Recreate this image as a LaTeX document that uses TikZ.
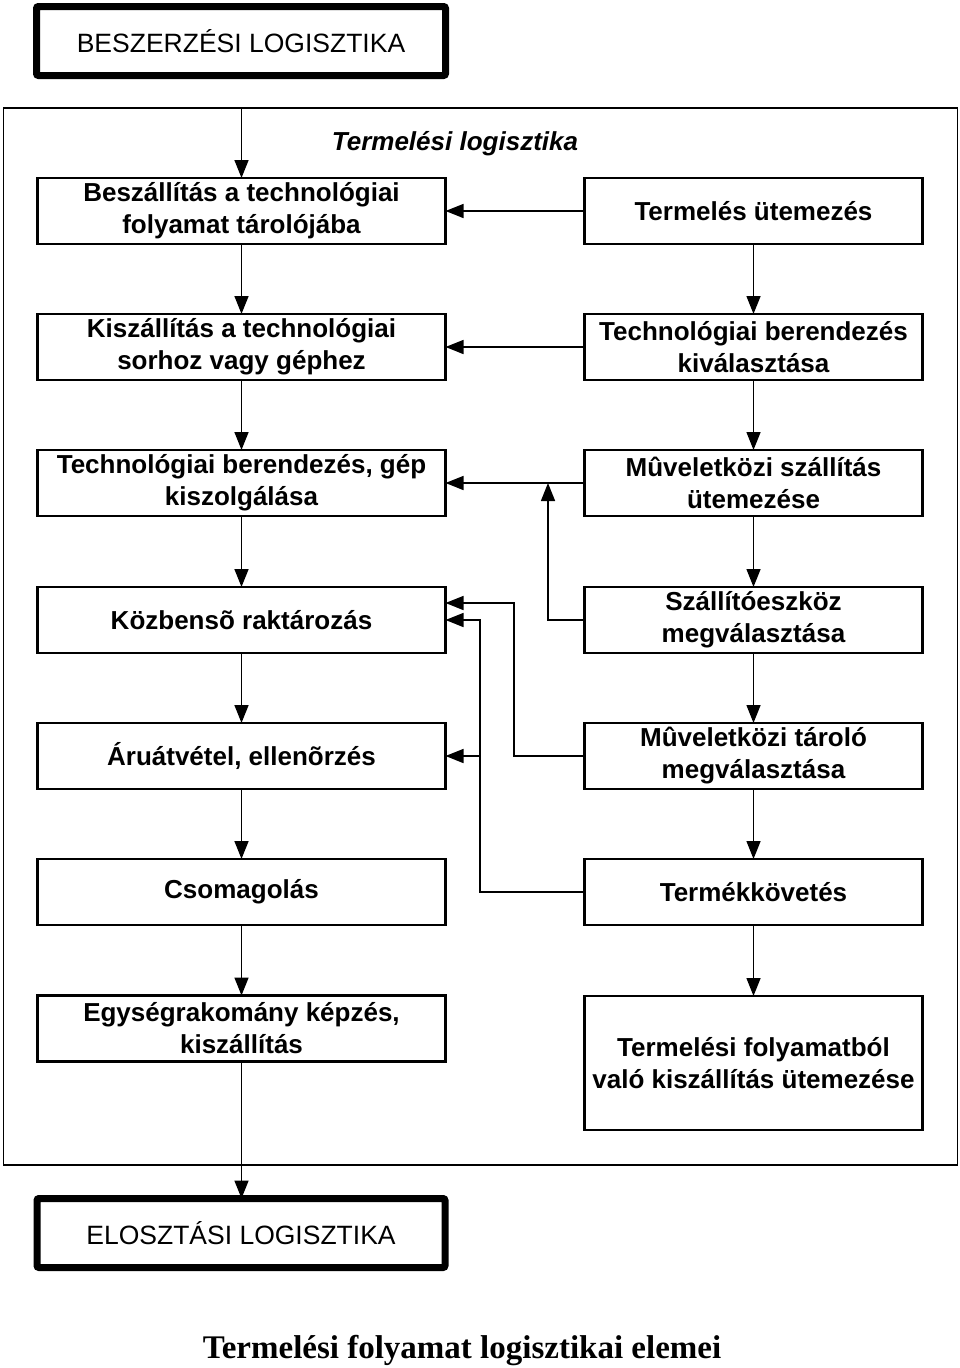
\documentclass[tikz,border=0pt]{standalone}
\usepackage{fontspec}
\setmainfont{Liberation Sans}
\newfontfamily\serifb{Liberation Serif}
\usetikzlibrary{arrows.meta,calc}
\begin{document}
\begin{tikzpicture}[x=1pt,y=-1pt,
  every node/.style={inner sep=0pt, outer sep=0pt},
  box/.style={draw, line width=2.6pt, align=center, font=\fontsize{26}{32}\selectfont\bfseries, minimum height=66pt},
  lbox/.style={box, minimum width=408pt},
  rbox/.style={box, minimum width=338pt},
  titlebox/.style={draw, line width=7pt, rounded corners=2pt, minimum width=409pt, minimum height=69pt, font=\fontsize{26.5}{32}\selectfont},
  arr/.style={line width=1.5pt, -{Triangle[length=18pt,width=14pt]}},
  conn/.style={line width=1.5pt}
]
\useasboundingbox (0,0) rectangle (960,1368);

\node[titlebox] (top) at (241,41) {BESZERZÉSI LOGISZTIKA};
\node[draw, line width=1.8pt, minimum width=954pt, minimum height=1057pt] (frame) at (480.5,636.5) {};
\node[font=\fontsize{26}{32}\selectfont\bfseries\itshape] (tl) at (455,144) {Termelési logisztika};

\node[lbox] (L1) at (241.5,211) {Beszállítás a technológiai\\folyamat tárolójába};
\node[lbox] (L2) at (241.5,347) {Kiszállítás a technológiai\\sorhoz vagy géphez};
\node[lbox] (L3) at (241.5,483) {Technológiai berendezés, gép\\kiszolgálása};
\node[lbox] (L4) at (241.5,620) {Közbensõ raktározás};
\node[lbox] (L5) at (241.5,756) {Áruátvétel, ellenõrzés};
\node[lbox] (L6) at (241.5,892) {Csomagolás};
\node[lbox] (L7) at (241.5,1028.5) {Egységrakomány képzés,\\kiszállítás};

\node[rbox] (R1) at (753.5,211) {Termelés ütemezés};
\node[rbox] (R2) at (753.5,347) {Technológiai berendezés\\kiválasztása};
\node[rbox] (R3) at (753.5,483) {Mûveletközi szállítás\\ütemezése};
\node[rbox] (R4) at (753.5,620) {Szállítóeszköz\\megválasztása};
\node[rbox] (R5) at (753.5,756) {Mûveletközi tároló\\megválasztása};
\node[rbox] (R6) at (753.5,892) {Termékkövetés};
\node[rbox, minimum height=134pt] (R7) at (753.5,1063) {Termelési folyamatból\\való kiszállítás ütemezése};

\node[titlebox, minimum width=408pt] (bot) at (241,1233) {ELOSZTÁSI LOGISZTIKA};
\node[font=\serifb\fontsize{33}{36}\selectfont\bfseries, anchor=base] (cap) at (462,1358) {Termelési folyamat logisztikai elemei};

% vertical flows
\draw[arr] (frame.north -| L1.north) -- (L1.north);
\draw[arr] (L1.south) -- (L2.north);
\draw[arr] (L2.south) -- (L3.north);
\draw[arr] (L3.south) -- (L4.north);
\draw[arr] (L4.south) -- (L5.north);
\draw[arr] (L5.south) -- (L6.north);
\draw[arr] (L6.south) -- (L7.north);
\draw[arr] (L7.south) -- (L7.south |- bot.north);

\draw[arr] (R1.south) -- (R2.north);
\draw[arr] (R2.south) -- (R3.north);
\draw[arr] (R3.south) -- (R4.north);
\draw[arr] (R4.south) -- (R5.north);
\draw[arr] (R5.south) -- (R6.north);
\draw[arr] (R6.south) -- (R7.north);

% horizontal links
\draw[arr] (R1.west) -- (L1.east);
\draw[arr] (R2.west) -- (L2.east);
\draw[arr] (R3.west) -- (L3.east);

\coordinate (x548) at (548,0);
\coordinate (x514) at (514,0);
\coordinate (x480) at (480,0);

\draw[arr] (R4.west) -- (R4.west -| x548) -- (R3.west -| x548);
\draw[arr] (R5.west) -- (R5.west -| x514) |- ([yshift=17pt]L4.east);
\draw[arr] (R6.west) -- (R6.west -| x480) |- (L4.east);
\draw[arr] (L5.east -| x480) -- (L5.east);
\end{tikzpicture}
\end{document}
